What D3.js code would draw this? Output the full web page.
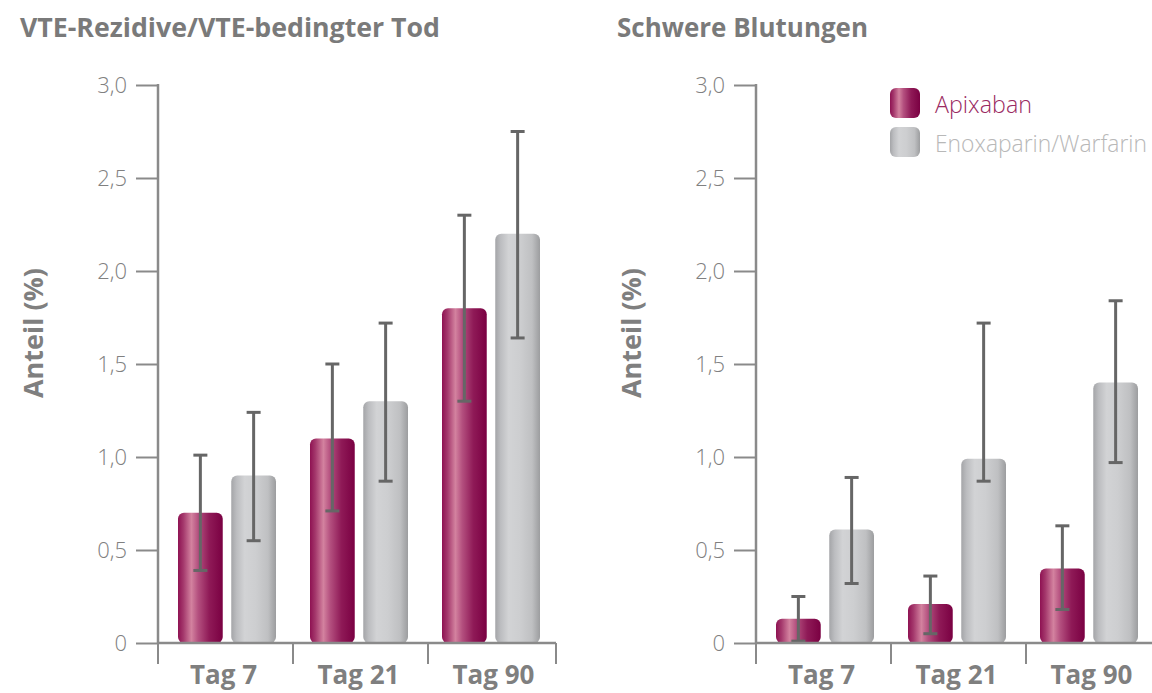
<!DOCTYPE html>
<html>
<head>
<meta charset="utf-8">
<script src="https://cdn.jsdelivr.net/npm/d3@7"></script>
<style>
  html, body { margin: 0; padding: 0; background: #fff; }
  svg { display: block; }
  text { font-family: "Open Sans", "Noto Sans", "DejaVu Sans", sans-serif; }
</style>
</head>
<body>
<svg id="chart" width="1152" height="693"></svg>
<script>
// Time points and series
const categories = ["Tag 7", "Tag 21", "Tag 90"];
const seriesNames = ["Apixaban", "Enoxaparin/Warfarin"];
const yTicks = [0, 0.5, 1.0, 1.5, 2.0, 2.5, 3.0];

// VTE recurrence / VTE-related death (%)
const vteApixaban = [0.7, 1.1, 1.8];
const vteApixabanLow = [0.39, 0.71, 1.30];
const vteApixabanHigh = [1.01, 1.50, 2.30];
const vteEnox = [0.9, 1.3, 2.2];
const vteEnoxLow = [0.55, 0.87, 1.64];
const vteEnoxHigh = [1.24, 1.72, 2.75];

// Major bleeding (%)
const bleedApixaban = [0.13, 0.21, 0.40];
const bleedApixabanLow = [0.01, 0.05, 0.18];
const bleedApixabanHigh = [0.25, 0.36, 0.63];
const bleedEnox = [0.61, 0.99, 1.40];
const bleedEnoxLow = [0.32, 0.87, 0.97];
const bleedEnoxHigh = [0.89, 1.72, 1.84];

const svg = d3.select("#chart");
const defs = svg.append("defs");

// Glossy cylinder-like horizontal gradients for the bars
const gradApix = defs.append("linearGradient").attr("id", "gApix")
  .attr("x1", "0%").attr("x2", "100%").attr("y1", "0%").attr("y2", "0%");
[[0, "#8e1252"], [0.12, "#a4386c"], [0.3, "#d3829f"], [0.45, "#b4507f"],
 [0.7, "#8f1a57"], [1, "#7a0042"]].forEach(([o, c]) =>
  gradApix.append("stop").attr("offset", o).attr("stop-color", c));

const gradEnox = defs.append("linearGradient").attr("id", "gEnox")
  .attr("x1", "0%").attr("x2", "100%").attr("y1", "0%").attr("y2", "0%");
[[0, "#a4a5a8"], [0.12, "#bcbdc0"], [0.3, "#d2d3d5"], [0.55, "#cdced0"],
 [0.82, "#bfc0c2"], [1, "#9c9d9f"]].forEach(([o, c]) =>
  gradEnox.append("stop").attr("offset", o).attr("stop-color", c));

const fills = ["url(#gApix)", "url(#gEnox)"];

const yTop = 85, yBase = 643;
const y = d3.scaleLinear().domain([0, 3]).range([yBase, yTop]);
const fmt = v => v === 0 ? "0" : d3.format(".1f")(v).replace(".", ",");

function panel(cfg) {
  const g = svg.append("g");
  const ax = cfg.axisX;

  // Title
  g.append("text")
    .attr("x", cfg.titleX).attr("y", 37)
    .attr("font-size", 27).attr("font-weight", 700).attr("fill", "#7a7a7a")
    .attr("textLength", cfg.titleW).attr("lengthAdjust", "spacingAndGlyphs")
    .text(cfg.title);

  // Y-axis title
  g.append("text")
    .attr("transform", `translate(${cfg.yLabelX},333) rotate(-90)`)
    .attr("text-anchor", "middle")
    .attr("font-size", 27).attr("font-weight", 700).attr("fill", "#7f7f7f")
    .attr("textLength", 130).attr("lengthAdjust", "spacingAndGlyphs")
    .text("Anteil (%)");

  // Category axis (band per time point) and bar layout scales
  const xCat = d3.scaleBand().domain(categories).range([ax, ax + 405]);
  const xBar = d3.scaleBand().domain(categories)
    .range([ax + 20, ax + 20 + 362]).paddingInner(34 / 132).paddingOuter(0);
  const xSub = d3.scaleBand().domain(seriesNames)
    .range([0, xBar.bandwidth()]).paddingInner(0.16);

  // Y axis with value ticks
  const yAxis = d3.axisLeft(y).tickValues(yTicks).tickFormat(fmt)
    .tickSize(22).tickPadding(9);
  const ya = g.append("g").attr("transform", `translate(${ax},0)`).call(yAxis);
  ya.select(".domain").remove();
  ya.selectAll(".tick line").attr("stroke", "#8a8a8a").attr("stroke-width", 2);
  ya.selectAll(".tick text").attr("font-size", 22).attr("font-weight", 300)
    .attr("fill", "#808080").attr("font-family", "'Open Sans', sans-serif");
  g.append("line").attr("x1", ax).attr("x2", ax).attr("y1", yTop - 1).attr("y2", yBase)
    .attr("stroke", "#8a8a8a").attr("stroke-width", 2.5);

  // Bars
  const rows = [];
  categories.forEach((c, i) => {
    cfg.series.forEach((s, j) => {
      rows.push({ cat: c, name: seriesNames[j], k: j, v: s.v[i], lo: s.lo[i], hi: s.hi[i] });
    });
  });

  const barG = g.append("g");
  barG.selectAll("rect").data(rows).join("rect")
    .attr("x", d => xBar(d.cat) + xSub(d.name))
    .attr("width", xSub.bandwidth())
    .attr("y", d => y(d.v))
    .attr("height", d => yBase - y(d.v))
    .attr("rx", 6).attr("ry", 6)
    .attr("fill", d => fills[d.k]);

  // Error bars
  const errG = g.append("g").attr("stroke", "#666666").attr("stroke-width", 3);
  rows.forEach(d => {
    const cx = xBar(d.cat) + xSub(d.name) + xSub.bandwidth() / 2;
    errG.append("line").attr("x1", cx).attr("x2", cx).attr("y1", y(d.hi)).attr("y2", y(d.lo));
    errG.append("line").attr("x1", cx - 7).attr("x2", cx + 7).attr("y1", y(d.hi)).attr("y2", y(d.hi));
    errG.append("line").attr("x1", cx - 7).attr("x2", cx + 7).attr("y1", y(d.lo)).attr("y2", y(d.lo));
  });

  // X axis baseline and category separators
  g.append("line").attr("x1", ax).attr("x2", cfg.axisEnd).attr("y1", yBase).attr("y2", yBase)
    .attr("stroke", "#8a8a8a").attr("stroke-width", 2.5);
  const seps = categories.map(c => xCat(c)).concat([cfg.axisEnd]);
  g.selectAll("line.sep").data(seps).join("line").attr("class", "sep")
    .attr("x1", d => d).attr("x2", d => d).attr("y1", yBase).attr("y2", yBase + 21)
    .attr("stroke", "#8a8a8a").attr("stroke-width", 2);

  g.selectAll("text.cat").data(categories).join("text").attr("class", "cat")
    .attr("x", d => xCat(d) + xCat.bandwidth() / 2 - 2)
    .attr("y", 684)
    .attr("text-anchor", "middle")
    .attr("font-size", 26).attr("font-weight", 700).attr("fill", "#7f7f7f")
    .text(d => d);
}

panel({
  title: "VTE-Rezidive/VTE-bedingter Tod", titleX: 20, titleW: 420,
  axisX: 158, axisEnd: 556, yLabelX: 43,
  series: [
    { v: vteApixaban, lo: vteApixabanLow, hi: vteApixabanHigh },
    { v: vteEnox, lo: vteEnoxLow, hi: vteEnoxHigh }
  ]
});

panel({
  title: "Schwere Blutungen", titleX: 617, titleW: 251,
  axisX: 756, axisEnd: 1160, yLabelX: 641,
  series: [
    { v: bleedApixaban, lo: bleedApixabanLow, hi: bleedApixabanHigh },
    { v: bleedEnox, lo: bleedEnoxLow, hi: bleedEnoxHigh }
  ]
});

// Legend
const legend = svg.append("g");
const legendColors = ["#9a2a62", "#b8b8b8"];
const legendWidths = [97, 212];
seriesNames.forEach((n, i) => {
  const ly = 88 + i * 39;
  legend.append("rect").attr("x", 890).attr("y", ly).attr("width", 30).attr("height", 30)
    .attr("rx", 6).attr("fill", fills[i]);
  legend.append("text").attr("x", 935).attr("y", ly + 25)
    .attr("font-size", 23).attr("font-weight", 300).attr("fill", legendColors[i])
    .attr("textLength", legendWidths[i]).attr("lengthAdjust", "spacingAndGlyphs")
    .text(n);
});
</script>
</body>
</html>
